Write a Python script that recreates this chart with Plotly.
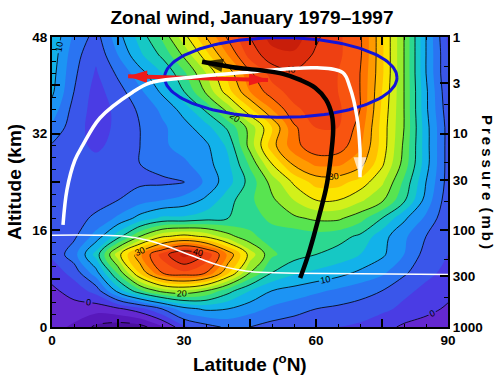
import numpy as np
import plotly.graph_objects as go

# ---------------- data ----------------
latitudes = [0, 5, 10, 15, 20, 25, 30, 35, 40, 45, 50, 55, 60, 65, 70, 75, 80, 85, 90]
altitudes = [0, 3, 6, 9, 12, 15, 18, 21, 24, 27, 30, 33, 36, 39, 42, 45, 48]

# zonal wind (m/s), one row per altitude (km)
u_00km = [-1.5, -3, -5.5, -6.5, -6, -3, 2, 4, 5.5, 5, 4, 3.5, 3, 2.5, 2, 1, -0.5, -1.5, -2.5]
u_03km = [-1, -1, -1.5, -0.5, 1.5, 5, 9, 10.5, 10, 8.5, 7, 6, 5, 4.5, 4, 3, 2, 1, -0.5]
u_06km = [-0.5, 1, 3.5, 11, 17, 21, 22, 20, 16, 12.5, 10, 9, 8, 7, 6, 5, 3, 2, 1]
u_09km = [1, 3.5, 9, 18, 28, 35, 37, 35, 28, 20, 15, 13, 12, 11, 9.5, 8, 5.5, 3, 2]
u_12km = [3, 6.5, 13.5, 24, 32, 38.5, 43.5, 39.5, 32, 24, 18, 16, 15, 14, 12.5, 10.5, 7.5, 4, 2.5]
u_15km = [3, 4.5, 8.5, 14, 20, 24.5, 26, 24.5, 21, 18, 16.5, 16, 16.5, 16, 14.5, 11, 8, 5, 3]
u_18km = [3, 4, 5.5, 8, 11, 13, 13, 14, 15, 16.5, 18, 19.5, 20.5, 20.5, 18.5, 15, 10.5, 7, 3]
u_21km = [3.5, 3.5, 4, 5, 6.5, 7.5, 8.5, 10.5, 14, 17, 19.5, 22.5, 25, 25, 23, 20.5, 15.5, 9, 3.5]
u_24km = [3.5, 3.2, 3.5, 3.5, 4.5, 4.5, 4.8, 8, 11.5, 16, 21, 25.5, 28.5, 28.5, 26.5, 23, 17, 10, 4]
u_27km = [4, 3.2, 3, 3.5, 5, 6, 7, 9, 12, 18, 25, 30.5, 33, 33, 31, 25.5, 19, 11, 4]
u_30km = [4.7, 3, 2.2, 3, 5, 7, 8.5, 9.5, 13, 21, 29, 34, 37, 36.5, 33, 26.5, 19.5, 11, 4]
u_33km = [7, 3.5, 1.5, 3, 5, 7, 9, 11.5, 15.5, 21, 27.5, 34.5, 37.5, 37.5, 34, 26.5, 20, 11, 4]
u_36km = [9, 4, 1.5, 3, 5.5, 8, 11, 15.5, 21, 27, 32.5, 37, 38.5, 38, 35, 27, 20, 10.5, 3.5]
u_39km = [10.5, 5, 1.5, 4, 7, 10.5, 15, 20.5, 26.5, 32.5, 36.5, 38.5, 38.5, 37.5, 35, 27.5, 20, 10.5, 3]
u_42km = [11, 5.5, 2.2, 5.5, 9, 12.5, 17, 22.5, 28.5, 34.5, 38.5, 39.5, 38.5, 37.5, 35, 28, 20, 10, 2.5]
u_45km = [11.5, 6, 3, 7.5, 12, 15.5, 20.5, 26.5, 32.5, 38.5, 41.5, 42, 39.5, 38, 35.5, 28, 20, 10, 2.5]
u_48km = [12, 7, 4, 9, 13.5, 18, 24, 30, 35.5, 40, 43.5, 44, 40.5, 38, 35.5, 28, 20, 10, 2]

wind = [u_00km, u_03km, u_06km, u_09km, u_12km, u_15km, u_18km, u_21km, u_24km,
        u_27km, u_30km, u_33km, u_36km, u_39km, u_42km, u_45km, u_48km]

# axis ticks
lat_ticks = [0, 15, 30, 45, 60, 75, 90]
lat_ticklabels = ["0", "", "30", "", "60", "", "90"]
alt_ticks = [0, 8, 16, 24, 32, 40, 48]
alt_ticklabels = ["0", "", "16", "", "32", "", "48"]
pressure_ticks = [1, 3, 10, 30, 100, 300, 1000]
pressure_ticklabels = ["1", "3", "10", "30", "100", "300", "1000"]
pressure_minor = [2, 5, 20, 50, 200, 500]

# overlay paths (lat, alt)
tropopause_lat = [0, 10, 17, 22, 26, 30, 34, 38, 42, 46, 55, 70, 90]
tropopause_alt = [15.2, 15.2, 15.0, 14.3, 13.4, 12.3, 11.2, 10.2, 9.5, 9.1, 8.9, 8.8, 8.7]

white_lat = [2.5, 3.4, 5.2, 7.0, 10.9, 18.4, 22.3, 29.8, 45.0, 60.2, 66.1, 67.7, 69.3, 70.0, 70.0, 70.0]
white_alt = [16.9, 22.7, 27.6, 30.1, 34.6, 38.9, 40.4, 41.2, 42.2, 42.9, 42.1, 39.7, 34.8, 29.3, 27.2, 24.8]

black_lat = [56.4, 58.0, 59.5, 60.9, 62.3, 63.2, 63.9, 63.6, 62.3, 59.8, 56.4, 52.5, 47.3, 41.1, 34.1]
black_alt = [8.1, 11.4, 15.1, 18.9, 23.0, 27.2, 32.6, 35.1, 37.6, 39.6, 40.9, 41.9, 42.5, 43.0, 43.9]

red_lat = [17.3, 49.1]
red_alt = [41.5, 40.9]

ellipse_center = (52.0, 41.3)
ellipse_half_axes = (26.4, 6.6)

# ---------------- styles ----------------
band_colors = [
    '#3c0a80', '#4a10a0', '#5818bc', '#6428d0',
    '#4a3ce4', '#3a56ea', '#2a74f2', '#1c94f4',
    '#12b2ea', '#16c8c4', '#2cd890', '#58e450',
    '#98ec2c', '#d2f01a', '#fce400', '#ffc000',
    '#ff9a00', '#ff7400', '#f85410', '#ee4012',
    '#dc2c0c', '#c81e0a', '#b41408',
]
fill_start, fill_end, fill_step = -7.5, 45.0, 2.5
n_levels = int(round((fill_end - fill_start) / fill_step)) + 1
colorscale = [[j / n_levels, c] for j, c in enumerate(band_colors)]

FONT = "Liberation Sans, Arial, Helvetica, sans-serif"

fig = go.Figure()

fig.add_trace(go.Contour(
    x=latitudes, y=altitudes, z=wind, colorscale=colorscale, showscale=False,
    autocontour=False,
    contours=dict(start=fill_start, end=fill_end, size=fill_step, coloring='fill', showlines=False),
    line=dict(width=0, smoothing=1), hoverinfo='skip'))

# labelled contour lines every 10
fig.add_trace(go.Contour(
    x=latitudes, y=altitudes, z=wind, showscale=False, autocontour=False,
    contours=dict(start=0, end=40, size=10, coloring='none', showlabels=True,
                  labelfont=dict(size=9, color='black', family=FONT)),
    line=dict(color='black', width=0.8, smoothing=1), hoverinfo='skip'))
# unlabelled contour lines in between
fig.add_trace(go.Contour(
    x=latitudes, y=altitudes, z=wind, showscale=False, autocontour=False,
    contours=dict(start=5, end=45, size=10, coloring='none'),
    line=dict(color='black', width=0.8, smoothing=1), hoverinfo='skip'))
# negative contour dashed
fig.add_trace(go.Contour(
    x=latitudes, y=altitudes, z=wind, showscale=False, autocontour=False,
    contours=dict(start=-5, end=-5, size=5, coloring='none'),
    line=dict(color='black', width=0.8, dash='dash', smoothing=1), hoverinfo='skip'))

# tropopause
fig.add_trace(go.Scatter(x=tropopause_lat, y=tropopause_alt, mode='lines',
                         line=dict(color='white', width=1.5, shape='spline'), hoverinfo='skip'))

# blue ellipse
theta = np.linspace(0, 2 * np.pi, 181)
fig.add_trace(go.Scatter(
    x=ellipse_center[0] + ellipse_half_axes[0] * np.cos(theta),
    y=ellipse_center[1] + ellipse_half_axes[1] * np.sin(theta),
    mode='lines', line=dict(color='#1414d8', width=3), hoverinfo='skip'))

# red double arrow
fig.add_trace(go.Scatter(x=red_lat, y=red_alt, mode='lines+markers',
                         line=dict(color='#ee1a1a', width=4),
                         marker=dict(symbol='arrow', size=20, angle=[271.5, 91.5], color='#ee1a1a',
                                     line=dict(width=0)),
                         hoverinfo='skip'))

# white circulation arrow
fig.add_trace(go.Scatter(x=white_lat, y=white_alt, mode='lines+markers',
                         line=dict(color='white', width=3.5, shape='spline'),
                         marker=dict(symbol='arrow', size=[0] * (len(white_lat) - 1) + [21],
                                     angleref='previous', color='white', line=dict(width=0)),
                         hoverinfo='skip'))

# black arrow
fig.add_trace(go.Scatter(x=black_lat, y=black_alt, mode='lines+markers',
                         line=dict(color='black', width=4.5, shape='spline'),
                         marker=dict(symbol='arrow', size=[0] * (len(black_lat) - 1) + [22],
                                     angleref='previous', color='black', line=dict(width=0)),
                         hoverinfo='skip'))

# invisible trace to activate the pressure axis
fig.add_trace(go.Scatter(x=[None, None], y=[1, 1000], yaxis='y2', mode='markers',
                         marker=dict(opacity=0), hoverinfo='skip'))

tickfont = dict(family=FONT, size=13.5, color='black', weight='bold')
axis_common = dict(showgrid=False, zeroline=False, showline=True, linewidth=2, linecolor='black',
                   ticks='inside', ticklen=8, tickwidth=2, tickcolor='black', tickfont=tickfont,
                   automargin=False)

thin = '\u2009'
pressure_title = thin.join(list('Pressure')) + thin + ' ' + thin.join(list('(mb)'))

fig.update_layout(
    width=504, height=380,
    margin=dict(l=52, r=56, t=37, b=53),
    paper_bgcolor='white', plot_bgcolor='white', showlegend=False,
    title=dict(text='Zonal wind, January 1979\u20131997', x=0.5, xanchor='center',
               y=1 - 17 / 380, yanchor='middle', automargin=False,
               font=dict(family=FONT, size=19, color='black', weight='bold')),
    xaxis=dict(range=[0, 90], tickmode='array', tickvals=lat_ticks, ticktext=lat_ticklabels,
               mirror='ticks',
               minor=dict(tickmode='linear', tick0=0, dtick=5, ticks='inside', ticklen=3,
                          tickwidth=1, tickcolor='black'),
               **axis_common),
    yaxis=dict(range=[0, 48], tickmode='array', tickvals=alt_ticks, ticktext=alt_ticklabels,
               minor=dict(tickmode='linear', tick0=0, dtick=2, ticks='inside', ticklen=4,
                          tickwidth=1, tickcolor='black'),
               **axis_common),
    yaxis2=dict(overlaying='y', side='right', anchor='x', type='log', range=[3, 0],
                tickmode='array', tickvals=pressure_ticks, ticktext=pressure_ticklabels,
                minor=dict(tickmode='array', tickvals=pressure_minor, ticks='inside', ticklen=4,
                           tickwidth=1, tickcolor='black'),
                **axis_common),
    annotations=[
        dict(text='Latitude (<sup>o</sup>N)', xref='paper', yref='paper', x=0.5, y=-0.124,
             xanchor='center', yanchor='middle', showarrow=False,
             font=dict(family=FONT, size=19, color='black', weight='bold')),
        dict(text='Altitude (km)', xref='paper', yref='paper', x=-0.096, y=0.5,
             xanchor='center', yanchor='middle', showarrow=False, textangle=-90,
             font=dict(family=FONT, size=19, color='black', weight='bold')),
        dict(text=pressure_title, xref='paper', yref='paper', x=1.101, y=0.5,
             xanchor='center', yanchor='middle', showarrow=False, textangle=90,
             font=dict(family=FONT, size=15, color='black', weight='bold')),
    ],
)

fig.write_html("out.html", config={'displayModeBar': False},
               post_script="document.body.style.margin='0px';")
